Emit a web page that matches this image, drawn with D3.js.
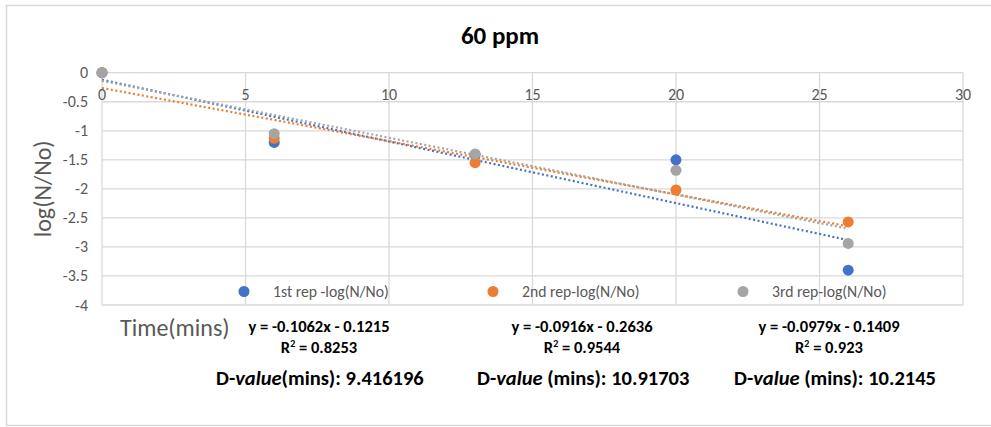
<!DOCTYPE html>
<html>
<head>
<meta charset="utf-8">
<script src="https://cdn.jsdelivr.net/npm/d3@7"></script>
<style>
  body { margin: 0; background: #fff; }
  text { font-family: Calibri, Carlito, Lato, "Open Sans", sans-serif; }
</style>
</head>
<body>
<div id="chart"></div>
<script>
// data
const times = [0, 6, 13, 20, 26];
const rep1 = [0, -1.20, -1.41, -1.50, -3.40];
const rep2 = [0, -1.13, -1.55, -2.02, -2.57];
const rep3 = [0, -1.05, -1.40, -1.68, -2.94];
const seriesNames = ["1st rep -log(N/No)", "2nd rep-log(N/No)", "3rd rep-log(N/No)"];
const colors = ["#4472C4", "#ED7D31", "#A5A5A5"];
// trendline coefficients as printed on the chart
const slopes = [-0.1062, -0.0916, -0.0979];
const intercepts = [-0.1215, -0.2636, -0.1409];
const eqLabels = ["y = -0.1062x - 0.1215", "y = -0.0916x - 0.2636", "y = -0.0979x - 0.1409"];
const r2Labels = ["0.8253", "0.9544", "0.923"];
const dLabels = ["(mins): 9.416196", " (mins): 10.91703", " (mins): 10.2145"];
const xTicks = [0, 5, 10, 15, 20, 25, 30];
const yTicks = [0, -0.5, -1, -1.5, -2, -2.5, -3, -3.5, -4];

const W = 991, H = 427;
const margin = {top: 72.7, left: 102, right: 28, bottom: 122};

const svg = d3.select("#chart").append("svg")
    .attr("width", W)
    .attr("height", H);

// outer frame
svg.append("rect")
    .attr("x", 6.5).attr("y", 5.5)
    .attr("width", 990).attr("height", 420)
    .attr("fill", "none").attr("stroke", "#d9d9d9").attr("stroke-width", 1.5);

const x = d3.scaleLinear().domain([0, 30]).range([margin.left, W - margin.right]);
const y = d3.scaleLinear().domain([0, -4]).range([margin.top, H - margin.bottom]);

// gridlines
svg.append("g").selectAll("line.h")
    .data(yTicks)
    .join("line")
    .attr("x1", x(0)).attr("x2", x(30))
    .attr("y1", d => y(d)).attr("y2", d => y(d))
    .attr("stroke", "#d9d9d9").attr("stroke-width", 1.3);

svg.append("g").selectAll("line.v")
    .data(xTicks)
    .join("line")
    .attr("x1", d => x(d)).attr("x2", d => x(d))
    .attr("y1", y(0)).attr("y2", y(-4))
    .attr("stroke", "#d9d9d9").attr("stroke-width", 1.3);

// y tick labels
svg.append("g").selectAll("text")
    .data(yTicks)
    .join("text")
    .attr("x", 88)
    .attr("y", d => y(d) + 5.5)
    .attr("text-anchor", "end")
    .attr("fill", "#595959")
    .attr("font-size", 16)
    .text(d => d);

// x tick labels sit under the zero line
svg.append("g").selectAll("text")
    .data(xTicks)
    .join("text")
    .attr("x", d => x(d))
    .attr("y", 100)
    .attr("text-anchor", "middle")
    .attr("fill", "#595959")
    .attr("font-size", 16)
    .text(d => d);

// title
svg.append("text")
    .attr("x", 500).attr("y", 44)
    .attr("text-anchor", "middle")
    .attr("font-size", 25).attr("font-weight", "bold")
    .attr("fill", "#000")
    .text("60 ppm");

// axis titles
svg.append("text")
    .attr("transform", `translate(51,${y(-2)}) rotate(-90)`)
    .attr("text-anchor", "middle")
    .attr("font-size", 24)
    .attr("fill", "#595959")
    .text("log(N/No)");

svg.append("text")
    .attr("x", 120).attr("y", 336)
    .attr("font-size", 24)
    .attr("fill", "#595959")
    .text("Time(mins)");

// trendlines
const allReps = [rep1, rep2, rep3];
const line = d3.line().x(d => x(d[0])).y(d => y(d[1]));
allReps.forEach((rep, i) => {
    const ends = [times[0], times[times.length - 1]].map(t => [t, slopes[i] * t + intercepts[i]]);
    svg.append("path")
        .attr("d", line(ends))
        .attr("fill", "none")
        .attr("stroke", colors[i])
        .attr("stroke-width", 2.2)
        .attr("stroke-dasharray", "2,2.5");
});

// points
allReps.forEach((rep, i) => {
    svg.append("g").selectAll("circle")
        .data(times.map((t, j) => [t, rep[j]]))
        .join("circle")
        .attr("cx", d => x(d[0]))
        .attr("cy", d => y(d[1]))
        .attr("r", 5.5)
        .attr("fill", colors[i]);
});

// legend
const legendX = [244, 493, 743];
seriesNames.forEach((name, i) => {
    svg.append("circle")
        .attr("cx", legendX[i]).attr("cy", 291.5)
        .attr("r", 5.5).attr("fill", colors[i]);
    svg.append("text")
        .attr("x", legendX[i] + 29).attr("y", 297)
        .attr("font-size", 15.7)
        .attr("fill", "#595959")
        .text(name);
});

// equations and D-values
const eqCenters = [319, 582, 829];
eqLabels.forEach((eq, i) => {
    svg.append("text")
        .attr("x", eqCenters[i]).attr("y", 332)
        .attr("text-anchor", "middle")
        .attr("font-size", 16.5).attr("font-weight", "bold")
        .attr("fill", "#000")
        .text(eq);
    const r = svg.append("text")
        .attr("x", eqCenters[i]).attr("y", 353)
        .attr("text-anchor", "middle")
        .attr("font-size", 16.5).attr("font-weight", "bold")
        .attr("fill", "#000");
    r.append("tspan").text("R");
    r.append("tspan").attr("dy", -6).attr("font-size", 10).text("2");
    r.append("tspan").attr("dy", 6).text(" = " + r2Labels[i]);
});

const dStarts = [216, 477, 734];
dLabels.forEach((d, i) => {
    const t = svg.append("text")
        .attr("x", dStarts[i]).attr("y", 385)
        .attr("font-size", 20.5)
        .attr("font-weight", 600)
        .attr("fill", "#000");
    t.append("tspan").text("D-");
    t.append("tspan").attr("font-style", "italic").text("value");
    t.append("tspan").text(d);
});
</script>
</body>
</html>
